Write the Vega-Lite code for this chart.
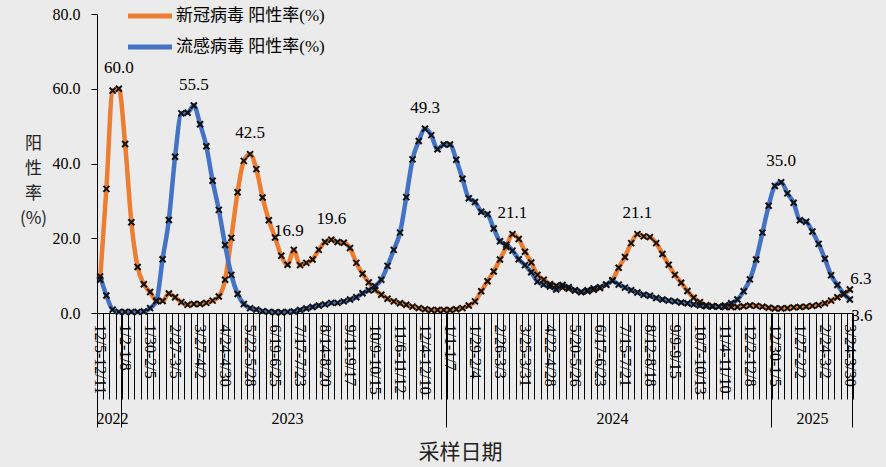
{
  "$schema": "https://vega.github.io/schema/vega-lite/v6.json",
  "width": 756,
  "height": 299,
  "autosize": "none",
  "padding": {"left": 97, "top": 14, "right": 33, "bottom": 154},
  "background": "#ebebeb",
  "config": {
    "view": {"stroke": null},
    "axis": {"labelFont": "Liberation Serif", "titleFont": "Noto Sans CJK SC", "titleFontWeight": "normal", "labelColor": "#000", "tickColor": "#000", "domainColor": "#000", "titleColor": "#222", "grid": false}
  },
  "data": {"values": [
    {"w":"2022|12/5-12/11","新冠病毒 阳性率(%)":8.9,"流感病毒 阳性率(%)":9.8},
    {"w":"2022|12/12-12/18","新冠病毒 阳性率(%)":33.2,"流感病毒 阳性率(%)":4.7},
    {"w":"2022|12/19-12/25","新冠病毒 阳性率(%)":59.5,"流感病毒 阳性率(%)":0.9},
    {"w":"2022|12/26-1/1","新冠病毒 阳性率(%)":60.0,"流感病毒 阳性率(%)":0.3},
    {"w":"2023|1/2-1/8","新冠病毒 阳性率(%)":45.2,"流感病毒 阳性率(%)":0.3},
    {"w":"2023|1/9-1/15","新冠病毒 阳性率(%)":24.3,"流感病毒 阳性率(%)":0.3},
    {"w":"2023|1/16-1/22","新冠病毒 阳性率(%)":12.3,"流感病毒 阳性率(%)":0.3},
    {"w":"2023|1/23-1/29","新冠病毒 阳性率(%)":7.7,"流感病毒 阳性率(%)":0.4},
    {"w":"2023|1/30-2/5","新冠病毒 阳性率(%)":5.6,"流感病毒 阳性率(%)":1.3},
    {"w":"2023|2/6-2/12","新冠病毒 阳性率(%)":3.3,"流感病毒 阳性率(%)":3.1},
    {"w":"2023|2/13-2/19","新冠病毒 阳性率(%)":3.2,"流感病毒 阳性率(%)":14.4},
    {"w":"2023|2/20-2/26","新冠病毒 阳性率(%)":5.2,"流感病毒 阳性率(%)":24.9},
    {"w":"2023|2/27-3/5","新冠病毒 阳性率(%)":4.2,"流感病毒 阳性率(%)":41.8},
    {"w":"2023|3/6-3/12","新冠病毒 阳性率(%)":2.9,"流感病毒 阳性率(%)":53.4},
    {"w":"2023|3/13-3/19","新冠病毒 阳性率(%)":2.2,"流感病毒 阳性率(%)":53.6},
    {"w":"2023|3/20-3/26","新冠病毒 阳性率(%)":2.4,"流感病毒 阳性率(%)":55.5},
    {"w":"2023|3/27-4/2","新冠病毒 阳性率(%)":2.4,"流感病毒 阳性率(%)":50.5},
    {"w":"2023|4/3-4/9","新冠病毒 阳性率(%)":2.7,"流感病毒 阳性率(%)":44.6},
    {"w":"2023|4/10-4/16","新冠病毒 阳性率(%)":3.3,"流感病毒 阳性率(%)":35.4},
    {"w":"2023|4/17-4/23","新冠病毒 阳性率(%)":4.4,"流感病毒 阳性率(%)":27.6},
    {"w":"2023|4/24-4/30","新冠病毒 阳性率(%)":8.9,"流感病毒 阳性率(%)":18.2},
    {"w":"2023|5/1-5/7","新冠病毒 阳性率(%)":20.1,"流感病毒 阳性率(%)":10.2},
    {"w":"2023|5/8-5/14","新冠病毒 阳性率(%)":32.3,"流感病毒 阳性率(%)":5.1},
    {"w":"2023|5/15-5/21","新冠病毒 阳性率(%)":40.7,"流感病毒 阳性率(%)":2.4},
    {"w":"2023|5/22-5/28","新冠病毒 阳性率(%)":42.5,"流感病毒 阳性率(%)":1.3},
    {"w":"2023|5/29-6/4","新冠病毒 阳性率(%)":38.5,"流感病毒 阳性率(%)":0.9},
    {"w":"2023|6/5-6/11","新冠病毒 阳性率(%)":30.9,"流感病毒 阳性率(%)":0.5},
    {"w":"2023|6/12-6/18","新冠病毒 阳性率(%)":24.8,"流感病毒 阳性率(%)":0.3},
    {"w":"2023|6/19-6/25","新冠病毒 阳性率(%)":20.2,"流感病毒 阳性率(%)":0.2},
    {"w":"2023|6/26-7/2","新冠病毒 阳性率(%)":15.3,"流感病毒 阳性率(%)":0.2},
    {"w":"2023|7/3-7/9","新冠病毒 阳性率(%)":12.9,"流感病毒 阳性率(%)":0.3},
    {"w":"2023|7/10-7/16","新冠病毒 阳性率(%)":16.9,"流感病毒 阳性率(%)":0.4},
    {"w":"2023|7/17-7/23","新冠病毒 阳性率(%)":12.8,"流感病毒 阳性率(%)":0.8},
    {"w":"2023|7/24-7/30","新冠病毒 阳性率(%)":13.4,"流感病毒 阳性率(%)":1.2},
    {"w":"2023|7/31-8/6","新冠病毒 阳性率(%)":14.3,"流感病毒 阳性率(%)":1.6},
    {"w":"2023|8/7-8/13","新冠病毒 阳性率(%)":16.9,"流感病毒 阳性率(%)":2.0},
    {"w":"2023|8/14-8/20","新冠病毒 阳性率(%)":19.0,"流感病毒 阳性率(%)":2.3},
    {"w":"2023|8/21-8/27","新冠病毒 阳性率(%)":19.6,"流感病毒 阳性率(%)":2.7},
    {"w":"2023|8/28-9/3","新冠病毒 阳性率(%)":19.0,"流感病毒 阳性率(%)":2.7},
    {"w":"2023|9/4-9/10","新冠病毒 阳性率(%)":18.8,"流感病毒 阳性率(%)":3.1},
    {"w":"2023|9/11-9/17","新冠病毒 阳性率(%)":17.4,"流感病毒 阳性率(%)":3.6},
    {"w":"2023|9/18-9/24","新冠病毒 阳性率(%)":13.4,"流感病毒 阳性率(%)":4.2},
    {"w":"2023|9/25-10/1","新冠病毒 阳性率(%)":10.5,"流感病毒 阳性率(%)":5.3},
    {"w":"2023|10/2-10/8","新冠病毒 阳性率(%)":8.2,"流感病毒 阳性率(%)":6.1},
    {"w":"2023|10/9-10/15","新冠病毒 阳性率(%)":6.2,"流感病毒 阳性率(%)":7.2},
    {"w":"2023|10/16-10/22","新冠病毒 阳性率(%)":4.9,"流感病毒 阳性率(%)":8.9},
    {"w":"2023|10/23-10/29","新冠病毒 阳性率(%)":3.8,"流感病毒 阳性率(%)":12.6},
    {"w":"2023|10/30-11/5","新冠病毒 阳性率(%)":3.1,"流感病毒 阳性率(%)":16.9},
    {"w":"2023|11/6-11/12","新冠病毒 阳性率(%)":2.6,"流感病毒 阳性率(%)":21.5},
    {"w":"2023|11/13-11/19","新冠病毒 阳性率(%)":2.2,"流感病毒 阳性率(%)":31.0},
    {"w":"2023|11/20-11/26","新冠病毒 阳性率(%)":1.7,"流感病毒 阳性率(%)":41.1},
    {"w":"2023|11/27-12/3","新冠病毒 阳性率(%)":1.3,"流感病毒 阳性率(%)":46.0},
    {"w":"2023|12/4-12/10","新冠病毒 阳性率(%)":1.0,"流感病毒 阳性率(%)":49.3},
    {"w":"2023|12/11-12/17","新冠病毒 阳性率(%)":0.8,"流感病毒 阳性率(%)":47.6},
    {"w":"2023|12/18-12/24","新冠病毒 阳性率(%)":0.8,"流感病毒 阳性率(%)":43.8},
    {"w":"2023|12/25-12/31","新冠病毒 阳性率(%)":0.8,"流感病毒 阳性率(%)":45.1},
    {"w":"2024|1/1-1/7","新冠病毒 阳性率(%)":0.8,"流感病毒 阳性率(%)":45.1},
    {"w":"2024|1/8-1/14","新冠病毒 阳性率(%)":1.0,"流感病毒 阳性率(%)":41.0},
    {"w":"2024|1/15-1/21","新冠病毒 阳性率(%)":1.3,"流感病毒 阳性率(%)":35.9},
    {"w":"2024|1/22-1/28","新冠病毒 阳性率(%)":2.0,"流感病毒 阳性率(%)":30.7},
    {"w":"2024|1/29-2/4","新冠病毒 阳性率(%)":3.1,"流感病毒 阳性率(%)":29.7},
    {"w":"2024|2/5-2/11","新冠病毒 阳性率(%)":5.8,"流感病毒 阳性率(%)":27.1},
    {"w":"2024|2/12-2/18","新冠病毒 阳性率(%)":8.5,"流感病毒 阳性率(%)":26.4},
    {"w":"2024|2/19-2/25","新冠病毒 阳性率(%)":11.1,"流感病毒 阳性率(%)":22.6},
    {"w":"2024|2/26-3/3","新冠病毒 阳性率(%)":14.3,"流感病毒 阳性率(%)":19.2},
    {"w":"2024|3/4-3/10","新冠病毒 阳性率(%)":17.7,"流感病毒 阳性率(%)":18.3},
    {"w":"2024|3/11-3/17","新冠病毒 阳性率(%)":21.1,"流感病毒 阳性率(%)":16.7},
    {"w":"2024|3/18-3/24","新冠病毒 阳性率(%)":19.8,"流感病毒 阳性率(%)":14.4},
    {"w":"2024|3/25-3/31","新冠病毒 阳性率(%)":16.4,"流感病毒 阳性率(%)":12.8},
    {"w":"2024|4/1-4/7","新冠病毒 阳性率(%)":13.5,"流感病毒 阳性率(%)":10.9},
    {"w":"2024|4/8-4/14","新冠病毒 阳性率(%)":10.2,"流感病毒 阳性率(%)":8.4},
    {"w":"2024|4/15-4/21","新冠病毒 阳性率(%)":8.9,"流感病毒 阳性率(%)":7.6},
    {"w":"2024|4/22-4/28","新冠病毒 阳性率(%)":7.7,"流感病毒 阳性率(%)":7.1},
    {"w":"2024|4/29-5/5","新冠病毒 阳性率(%)":7.3,"流感病毒 阳性率(%)":6.3},
    {"w":"2024|5/6-5/12","新冠病毒 阳性率(%)":6.8,"流感病毒 阳性率(%)":7.5},
    {"w":"2024|5/13-5/19","新冠病毒 阳性率(%)":6.5,"流感病毒 阳性率(%)":6.9},
    {"w":"2024|5/20-5/26","新冠病毒 阳性率(%)":6.0,"流感病毒 阳性率(%)":6.1},
    {"w":"2024|5/27-6/2","新冠病毒 阳性率(%)":5.6,"流感病毒 阳性率(%)":5.6},
    {"w":"2024|6/3-6/9","新冠病毒 阳性率(%)":5.8,"流感病毒 阳性率(%)":6.1},
    {"w":"2024|6/10-6/16","新冠病毒 阳性率(%)":6.2,"流感病毒 阳性率(%)":6.6},
    {"w":"2024|6/17-6/23","新冠病毒 阳性率(%)":6.7,"流感病毒 阳性率(%)":6.9},
    {"w":"2024|6/24-6/30","新冠病毒 阳性率(%)":7.6,"流感病毒 阳性率(%)":7.6},
    {"w":"2024|7/1-7/7","新冠病毒 阳性率(%)":8.8,"流感病毒 阳性率(%)":8.6},
    {"w":"2024|7/8-7/14","新冠病毒 阳性率(%)":12.1,"流感病毒 阳性率(%)":7.6},
    {"w":"2024|7/15-7/21","新冠病毒 阳性率(%)":15.0,"流感病毒 阳性率(%)":6.8},
    {"w":"2024|7/22-7/28","新冠病毒 阳性率(%)":18.7,"流感病毒 阳性率(%)":6.1},
    {"w":"2024|7/29-8/4","新冠病毒 阳性率(%)":21.1,"流感病毒 阳性率(%)":5.5},
    {"w":"2024|8/5-8/11","新冠病毒 阳性率(%)":20.5,"流感病毒 阳性率(%)":4.9},
    {"w":"2024|8/12-8/18","新冠病毒 阳性率(%)":20.3,"流感病毒 阳性率(%)":4.6},
    {"w":"2024|8/19-8/25","新冠病毒 阳性率(%)":18.7,"流感病毒 阳性率(%)":4.0},
    {"w":"2024|8/26-9/1","新冠病毒 阳性率(%)":15.8,"流感病毒 阳性率(%)":3.6},
    {"w":"2024|9/2-9/8","新冠病毒 阳性率(%)":12.9,"流感病毒 阳性率(%)":3.3},
    {"w":"2024|9/9-9/15","新冠病毒 阳性率(%)":10.2,"流感病毒 阳性率(%)":3.1},
    {"w":"2024|9/16-9/22","新冠病毒 阳性率(%)":8.1,"流感病毒 阳性率(%)":2.8},
    {"w":"2024|9/23-9/29","新冠病毒 阳性率(%)":5.9,"流感病毒 阳性率(%)":2.6},
    {"w":"2024|9/30-10/6","新冠病毒 阳性率(%)":4.1,"流感病毒 阳性率(%)":2.3},
    {"w":"2024|10/7-10/13","新冠病毒 阳性率(%)":2.9,"流感病毒 阳性率(%)":2.0},
    {"w":"2024|10/14-10/20","新冠病毒 阳性率(%)":2.1,"流感病毒 阳性率(%)":1.8},
    {"w":"2024|10/21-10/27","新冠病毒 阳性率(%)":1.9,"流感病毒 阳性率(%)":1.7},
    {"w":"2024|10/28-11/3","新冠病毒 阳性率(%)":1.7,"流感病毒 阳性率(%)":1.7},
    {"w":"2024|11/4-11/10","新冠病毒 阳性率(%)":1.6,"流感病毒 阳性率(%)":2.0},
    {"w":"2024|11/11-11/17","新冠病毒 阳性率(%)":1.6,"流感病毒 阳性率(%)":2.6},
    {"w":"2024|11/18-11/24","新冠病毒 阳性率(%)":1.6,"流感病毒 阳性率(%)":3.6},
    {"w":"2024|11/25-12/1","新冠病毒 阳性率(%)":1.8,"流感病毒 阳性率(%)":5.8},
    {"w":"2024|12/2-12/8","新冠病毒 阳性率(%)":2.0,"流感病毒 阳性率(%)":9.0},
    {"w":"2024|12/9-12/15","新冠病毒 阳性率(%)":1.9,"流感病毒 阳性率(%)":14.3},
    {"w":"2024|12/16-12/22","新冠病毒 阳性率(%)":1.7,"流感病毒 阳性率(%)":21.5},
    {"w":"2024|12/23-12/29","新冠病毒 阳性率(%)":1.4,"流感病毒 阳性率(%)":28.7},
    {"w":"2025|12/30-1/5","新冠病毒 阳性率(%)":1.2,"流感病毒 阳性率(%)":34.0},
    {"w":"2025|1/6-1/12","新冠病毒 阳性率(%)":1.2,"流感病毒 阳性率(%)":35.0},
    {"w":"2025|1/13-1/19","新冠病毒 阳性率(%)":1.3,"流感病毒 阳性率(%)":32.0},
    {"w":"2025|1/20-1/26","新冠病毒 阳性率(%)":1.5,"流感病毒 阳性率(%)":29.5},
    {"w":"2025|1/27-2/2","新冠病毒 阳性率(%)":1.6,"流感病毒 阳性率(%)":24.8},
    {"w":"2025|2/3-2/9","新冠病毒 阳性率(%)":1.7,"流感病毒 阳性率(%)":24.4},
    {"w":"2025|2/10-2/16","新冠病毒 阳性率(%)":1.9,"流感病毒 阳性率(%)":21.8},
    {"w":"2025|2/17-2/23","新冠病毒 阳性率(%)":2.1,"流感病毒 阳性率(%)":18.5},
    {"w":"2025|2/24-3/2","新冠病毒 阳性率(%)":2.6,"流感病毒 阳性率(%)":14.5},
    {"w":"2025|3/3-3/9","新冠病毒 阳性率(%)":3.3,"流感病毒 阳性率(%)":10.1},
    {"w":"2025|3/10-3/16","新冠病毒 阳性率(%)":4.2,"流感病毒 阳性率(%)":7.5},
    {"w":"2025|3/17-3/23","新冠病毒 阳性率(%)":5.0,"流感病毒 阳性率(%)":5.2},
    {"w":"2025|3/24-3/30","新冠病毒 阳性率(%)":6.3,"流感病毒 阳性率(%)":3.6}
  ]},
  "transform": [{"fold": ["新冠病毒 阳性率(%)", "流感病毒 阳性率(%)"], "as": ["series", "value"]}],
  "encoding": {
    "y": {
      "field": "value", "type": "quantitative",
      "scale": {"domain": [0, 80], "nice": false, "zero": true},
      "axis": {
        "values": [0, 20, 40, 60, 80], "format": ".1f",
        "labelFontSize": 16, "labelPadding": 11, "tickSize": 6, "labelFlush": false,
        "title": ["阳", "性", "率", "(%)"], "titleAngle": 0, "titleFontSize": 17, "titleLineHeight": 25,
        "titleAlign": "center", "titleBaseline": "top", "titleX": -64, "titleY": 121
      }
    }
  },
  "resolve": {"axis": {"x": "independent"}},
  "layer": [
    {
      "mark": {"type": "line", "strokeWidth": 4.5, "interpolate": "monotone"},
      "encoding": {
        "x": {
          "field": "w", "type": "ordinal", "sort": null, "bandPosition": 0.5,
          "scale": {"type": "band", "paddingInner": 0, "paddingOuter": 0, "domain": [
            "2022|12/5-12/11","2022|12/12-12/18","2022|12/19-12/25","2022|12/26-1/1",
            "2023|1/2-1/8","2023|1/9-1/15","2023|1/16-1/22","2023|1/23-1/29","2023|1/30-2/5","2023|2/6-2/12","2023|2/13-2/19","2023|2/20-2/26","2023|2/27-3/5","2023|3/6-3/12","2023|3/13-3/19","2023|3/20-3/26","2023|3/27-4/2","2023|4/3-4/9","2023|4/10-4/16","2023|4/17-4/23","2023|4/24-4/30","2023|5/1-5/7","2023|5/8-5/14","2023|5/15-5/21","2023|5/22-5/28","2023|5/29-6/4","2023|6/5-6/11","2023|6/12-6/18","2023|6/19-6/25","2023|6/26-7/2","2023|7/3-7/9","2023|7/10-7/16","2023|7/17-7/23","2023|7/24-7/30","2023|7/31-8/6","2023|8/7-8/13","2023|8/14-8/20","2023|8/21-8/27","2023|8/28-9/3","2023|9/4-9/10","2023|9/11-9/17","2023|9/18-9/24","2023|9/25-10/1","2023|10/2-10/8","2023|10/9-10/15","2023|10/16-10/22","2023|10/23-10/29","2023|10/30-11/5","2023|11/6-11/12","2023|11/13-11/19","2023|11/20-11/26","2023|11/27-12/3","2023|12/4-12/10","2023|12/11-12/17","2023|12/18-12/24","2023|12/25-12/31",
            "2024|1/1-1/7","2024|1/8-1/14","2024|1/15-1/21","2024|1/22-1/28","2024|1/29-2/4","2024|2/5-2/11","2024|2/12-2/18","2024|2/19-2/25","2024|2/26-3/3","2024|3/4-3/10","2024|3/11-3/17","2024|3/18-3/24","2024|3/25-3/31","2024|4/1-4/7","2024|4/8-4/14","2024|4/15-4/21","2024|4/22-4/28","2024|4/29-5/5","2024|5/6-5/12","2024|5/13-5/19","2024|5/20-5/26","2024|5/27-6/2","2024|6/3-6/9","2024|6/10-6/16","2024|6/17-6/23","2024|6/24-6/30","2024|7/1-7/7","2024|7/8-7/14","2024|7/15-7/21","2024|7/22-7/28","2024|7/29-8/4","2024|8/5-8/11","2024|8/12-8/18","2024|8/19-8/25","2024|8/26-9/1","2024|9/2-9/8","2024|9/9-9/15","2024|9/16-9/22","2024|9/23-9/29","2024|9/30-10/6","2024|10/7-10/13","2024|10/14-10/20","2024|10/21-10/27","2024|10/28-11/3","2024|11/4-11/10","2024|11/11-11/17","2024|11/18-11/24","2024|11/25-12/1","2024|12/2-12/8","2024|12/9-12/15","2024|12/16-12/22","2024|12/23-12/29",
            "2025|12/30-1/5","2025|1/6-1/12","2025|1/13-1/19","2025|1/20-1/26","2025|1/27-2/2","2025|2/3-2/9","2025|2/10-2/16","2025|2/17-2/23","2025|2/24-3/2","2025|3/3-3/9","2025|3/10-3/16","2025|3/17-3/23","2025|3/24-3/30"
          ]},
          "axis": {"orient": "bottom", "title": null, "labels": false, "ticks": true, "tickSize": 86, "tickBand": "extent", "tickWidth": 1, "domain": true, "domainWidth": 1}
        },
        "color": {
          "field": "series", "type": "nominal",
          "scale": {"domain": ["新冠病毒 阳性率(%)", "流感病毒 阳性率(%)"], "range": ["#ED7D31", "#4472C4"]},
          "legend": {
            "orient": "none", "legendX": 43, "legendY": -8, "title": null, "direction": "vertical",
            "symbolType": "M-3,0L3,0", "symbolSize": 215, "symbolStrokeWidth": 5,
            "labelFontSize": 17, "labelFont": "Liberation Serif, Noto Sans CJK SC", "labelColor": "#000",
            "labelOffset": 16, "rowPadding": 11, "padding": 0
          }
        }
      }
    },
    {
      "mark": {"type": "point", "shape": "M-1,-1L1,1M-1,1L1,-1", "size": 36, "filled": false, "stroke": "#111", "strokeWidth": 2, "opacity": 1},
      "encoding": {
        "x": {
          "field": "w", "type": "ordinal", "sort": null, "bandPosition": 0.5,
          "scale": {"type": "band", "paddingInner": 0, "paddingOuter": 0},
          "axis": {"orient": "bottom", "title": null, "ticks": false, "tickSize": 0, "domain": false, "bandPosition": 0,
            "values": ["2022|12/5-12/11","2023|1/2-1/8","2023|1/30-2/5","2023|2/27-3/5","2023|3/27-4/2","2023|4/24-4/30","2023|5/22-5/28","2023|6/19-6/25","2023|7/17-7/23","2023|8/14-8/20","2023|9/11-9/17","2023|10/9-10/15","2023|11/6-11/12","2023|12/4-12/10","2024|1/1-1/7","2024|1/29-2/4","2024|2/26-3/3","2024|3/25-3/31","2024|4/22-4/28","2024|5/20-5/26","2024|6/17-6/23","2024|7/15-7/21","2024|8/12-8/18","2024|9/9-9/15","2024|10/7-10/13","2024|11/4-11/10","2024|12/2-12/8","2025|12/30-1/5","2025|1/27-2/2","2025|2/24-3/2","2025|3/24-3/30"],
            "labelExpr": "split(datum.value, '|')[1]", "labelAngle": 90, "labelAlign": "left", "labelBaseline": "middle",
            "labelFontSize": 16, "labelPadding": 11, "labelOverlap": false, "labelFlush": false, "labelBound": false}
        }
      }
    },
    {
      "transform": [{"filter": "(datum.series == '新冠病毒 阳性率(%)' && indexof(['2022|12/26-1/1','2023|5/22-5/28','2023|8/21-8/27','2024|3/11-3/17','2024|7/29-8/4'], datum.w) >= 0) || (datum.series == '流感病毒 阳性率(%)' && indexof(['2023|3/20-3/26','2023|12/4-12/10','2025|1/6-1/12'], datum.w) >= 0)"}],
      "mark": {"type": "text", "font": "Liberation Serif", "fontSize": 17, "color": "#000", "dy": -21, "baseline": "middle", "align": "center"},
      "encoding": {
        "x": {
          "field": "w", "type": "ordinal", "sort": null, "bandPosition": 0.5,
          "scale": {"type": "band", "paddingInner": 0, "paddingOuter": 0},
          "axis": {"orient": "bottom", "title": null, "labels": false, "domain": false, "ticks": true, "tickSize": 114, "tickWidth": 1, "bandPosition": 0,
            "values": ["2022|12/5-12/11", "2023|1/2-1/8", "2024|1/1-1/7", "2025|12/30-1/5"]}
        },
        "text": {"field": "value", "type": "quantitative", "format": ".1f"}
      }
    },
    {
      "transform": [{"filter": "datum.series == '新冠病毒 阳性率(%)' && datum.w == '2023|7/10-7/16'"}],
      "mark": {"type": "text", "font": "Liberation Serif", "fontSize": 17, "color": "#000", "dx": -5, "dy": -19, "baseline": "middle", "align": "center"},
      "encoding": {
        "x": {
          "field": "w", "type": "ordinal", "sort": null, "bandPosition": 0.5,
          "scale": {"type": "band", "paddingInner": 0, "paddingOuter": 0},
          "axis": {"orient": "bottom", "ticks": false, "tickSize": 0, "domain": false, "bandPosition": 0,
            "values": ["2022|12/19-12/25", "2023|7/3-7/9", "2024|7/1-7/7", "2025|2/10-2/16"],
            "labelExpr": "split(datum.value, '|')[0]", "labelAngle": 0, "labelAlign": "center", "labelBaseline": "middle",
            "labelFontSize": 16, "labelPadding": 105, "labelOverlap": false, "labelFlush": false,
            "title": "采样日期", "titleFontSize": 21, "titleX": 363, "titleY": 139, "titleAlign": "center", "titleBaseline": "middle", "titleAnchor": "start"}
        },
        "text": {"field": "value", "type": "quantitative", "format": ".1f"}
      }
    },
    {
      "transform": [{"filter": "datum.series == '新冠病毒 阳性率(%)' && datum.w == '2025|3/24-3/30'"}],
      "mark": {"type": "text", "font": "Liberation Serif", "fontSize": 17, "color": "#000", "dx": 11, "dy": -10, "baseline": "middle", "align": "center"},
      "encoding": {
        "x": {
          "field": "w", "type": "ordinal", "sort": null, "bandPosition": 0.5,
          "scale": {"type": "band", "paddingInner": 0, "paddingOuter": 0},
          "axis": {"orient": "bottom", "title": null, "labels": false, "domain": false, "ticks": true, "tickSize": 114, "tickWidth": 1, "bandPosition": 1,
            "values": ["2025|3/24-3/30"]}
        },
        "text": {"field": "value", "type": "quantitative", "format": ".1f"}
      }
    },
    {
      "transform": [{"filter": "datum.series == '流感病毒 阳性率(%)' && datum.w == '2025|3/24-3/30'"}],
      "mark": {"type": "text", "font": "Liberation Serif", "fontSize": 17, "color": "#000", "dx": 12, "dy": 16, "baseline": "middle", "align": "center"},
      "encoding": {
        "x": {
          "field": "w", "type": "ordinal", "sort": null, "bandPosition": 0.5,
          "scale": {"type": "band", "paddingInner": 0, "paddingOuter": 0},
          "axis": null
        },
        "text": {"field": "value", "type": "quantitative", "format": ".1f"}
      }
    }
  ]
}
